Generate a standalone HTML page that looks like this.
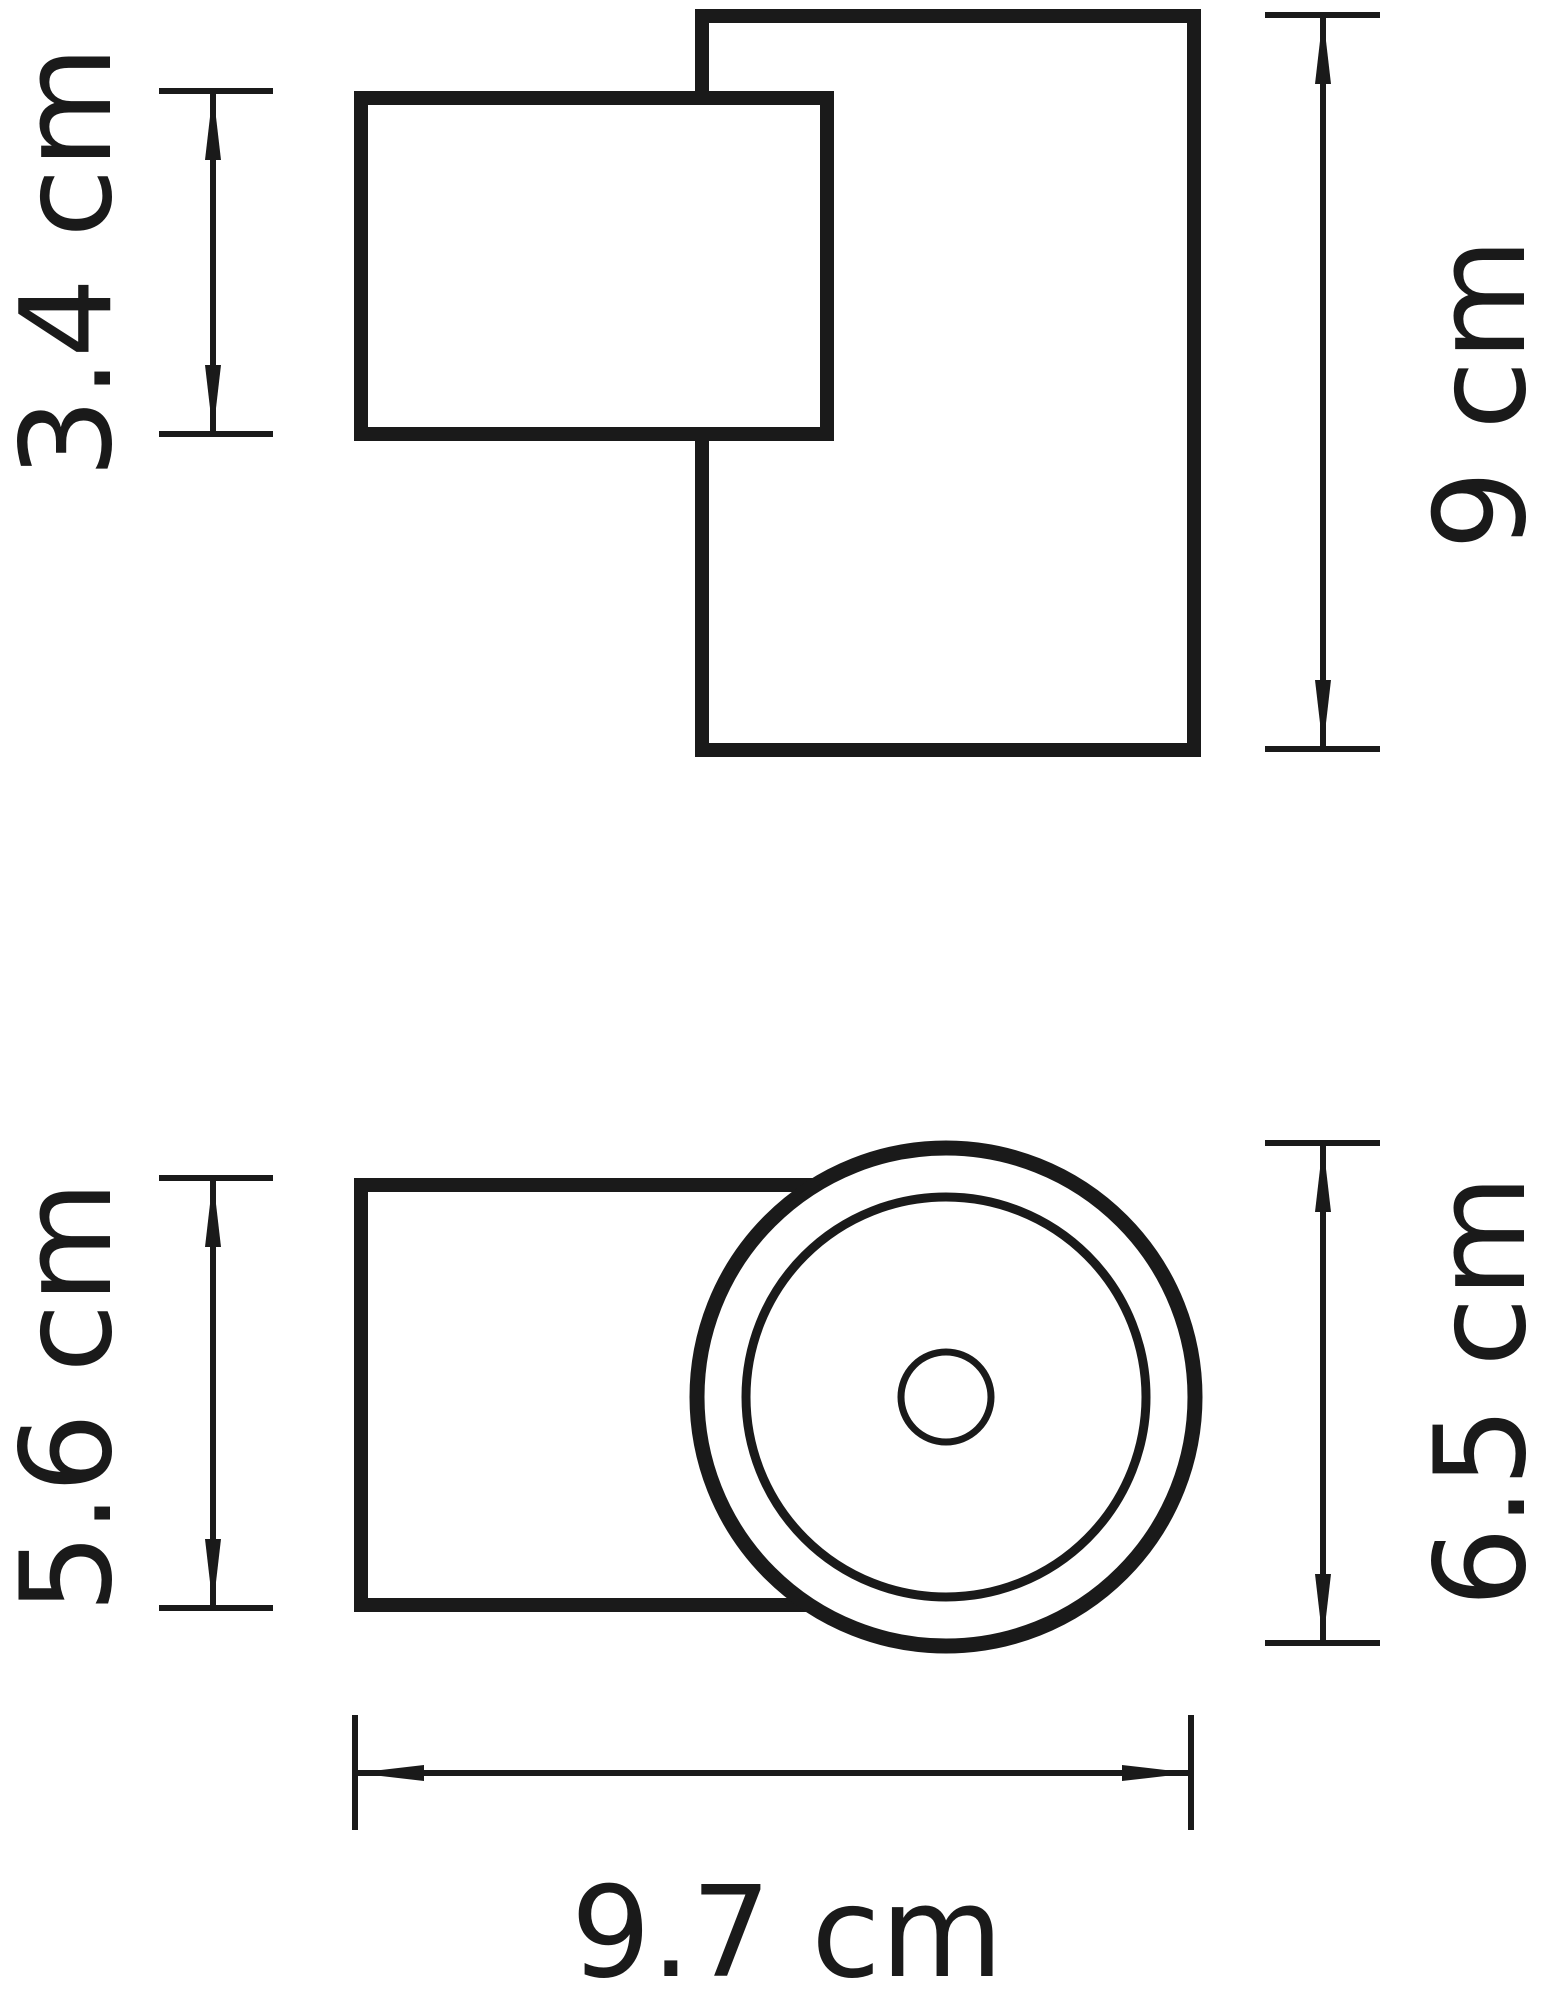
<!DOCTYPE html>
<html><head><style>html,body{margin:0;padding:0;background:#fff}svg{display:block}</style></head>
<body>
<svg width="1546" height="2000" viewBox="0 0 1546 2000" xmlns="http://www.w3.org/2000/svg">
<g fill="none" stroke="#1a1a1a">
<rect x="702" y="16" width="492" height="734" stroke-width="14"/>
<rect x="361" y="98" width="466" height="336" stroke-width="14" fill="#fff"/>
<rect x="361" y="1185" width="466" height="420" stroke-width="14"/>
<circle cx="946" cy="1397" r="249" stroke-width="15" fill="#fff"/>
<circle cx="946" cy="1397" r="200" stroke-width="9"/>
<circle cx="946" cy="1397" r="45" stroke-width="7"/>
<g stroke-width="6">
<line x1="159" y1="91" x2="273" y2="91"/><line x1="159" y1="434" x2="273" y2="434"/><line x1="213" y1="91" x2="213" y2="434"/>
<line x1="1265" y1="15" x2="1380" y2="15"/><line x1="1265" y1="749" x2="1380" y2="749"/><line x1="1323" y1="15" x2="1323" y2="749"/>
<line x1="159" y1="1178" x2="273" y2="1178"/><line x1="159" y1="1608" x2="273" y2="1608"/><line x1="213" y1="1178" x2="213" y2="1608"/>
<line x1="1265" y1="1143" x2="1380" y2="1143"/><line x1="1265" y1="1643" x2="1380" y2="1643"/><line x1="1323" y1="1143" x2="1323" y2="1643"/>
<line x1="355" y1="1715" x2="355" y2="1830"/><line x1="1191" y1="1715" x2="1191" y2="1830"/><line x1="355" y1="1773" x2="1191" y2="1773"/>
</g>
</g>
<g fill="#1a1a1a">
<polygon points="213,91 205,160 221,160"/><polygon points="213,434 205,365 221,365"/>
<polygon points="1323,15 1315,84 1331,84"/><polygon points="1323,749 1315,680 1331,680"/>
<polygon points="213,1178 205,1247 221,1247"/><polygon points="213,1608 205,1539 221,1539"/>
<polygon points="1323,1143 1315,1212 1331,1212"/><polygon points="1323,1643 1315,1574 1331,1574"/>
<polygon points="355,1773 424,1765 424,1781"/><polygon points="1191,1773 1122,1765 1122,1781"/>
</g>
<g font-family="DejaVu Sans, sans-serif" font-size="126" fill="#1a1a1a" text-anchor="middle">
<text transform="translate(110,262) rotate(-90)">3.4 cm</text>
<text transform="translate(1524,394) rotate(-90)">9 cm</text>
<text transform="translate(110,1397) rotate(-90)">5.6 cm</text>
<text transform="translate(1524,1391) rotate(-90)">6.5 cm</text>
<text x="787" y="1976">9.7 cm</text>
</g>
</svg>
</body></html>
